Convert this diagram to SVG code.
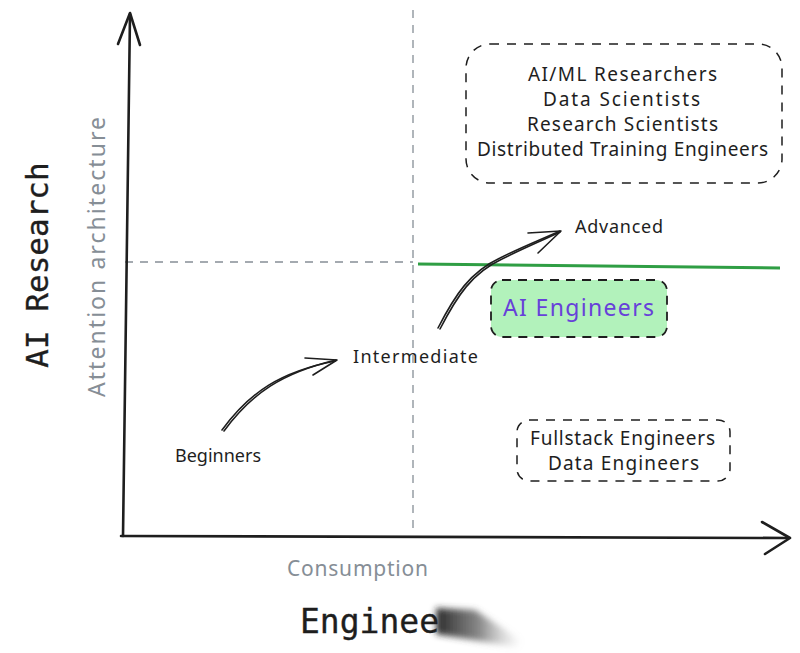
<svg xmlns="http://www.w3.org/2000/svg" width="800" height="653" viewBox="0 0 800 653">
<defs>
<style>
.hand{font-family:"Noto Sans","Liberation Sans",sans-serif;fill:#1e1e1e;}
.gray{font-family:"Noto Sans","Liberation Sans",sans-serif;fill:#868e96;}
.mono{font-family:"DejaVu Sans Mono","Liberation Mono",monospace;fill:#1e1e1e;stroke:#1e1e1e;stroke-width:0.35;}
.axis{stroke:#1e1e1e;stroke-width:2.6;fill:none;stroke-linecap:round;stroke-linejoin:round;}
.guide{stroke:#868e96;stroke-width:1.3;stroke-dasharray:8 7;fill:none;}
.box{stroke:#1e1e1e;stroke-width:1.5;stroke-dasharray:9 8;fill:none;}
.arrow{stroke:#1e1e1e;stroke-width:1.6;fill:none;stroke-linecap:round;stroke-linejoin:round;}
</style>
<linearGradient id="smudge" x1="0" y1="0" x2="1" y2="0">
<stop offset="0" stop-color="#1e1e1e" stop-opacity="0.95"/>
<stop offset="0.5" stop-color="#555" stop-opacity="0.7"/>
<stop offset="1" stop-color="#aaa" stop-opacity="0"/>
</linearGradient>
<filter id="blur" x="-20%" y="-50%" width="140%" height="200%"><feGaussianBlur stdDeviation="3"/></filter>
<filter id="soft" x="-100%" y="-50%" width="300%" height="200%"><feGaussianBlur stdDeviation="1"/></filter>
</defs>
<rect width="800" height="653" fill="#ffffff"/>

<g id="guides">
<line class="guide" x1="413" y1="10" x2="413" y2="535"/>
<line class="guide" x1="125" y1="262" x2="413" y2="262"/>
</g>

<g id="axes">
<path class="axis" d="M123,536 L130,14"/>
<path class="axis" d="M118,44 L130,13 L140,45"/>
<path class="axis" d="M121,536 L788,538"/>
<path class="axis" d="M762,522 L790,538 L765,554"/>
</g>

<g id="connectors">
<line x1="418" y1="264" x2="780" y2="268" stroke="#2f9e44" stroke-width="3"/>
<path class="arrow" d="M222,430 C250,392 280,372 335,361"/>
<path class="arrow" d="M224,431 C252,393 282,373 336,360"/>
<path class="arrow" d="M305,358 L337,360 L313,375"/>
<path class="arrow" d="M438,328 C455,295 470,272 500,258 C520,248 540,240 560,231"/>
<path class="arrow" d="M440,329 C457,296 472,273 502,259 C522,249 541,241 560,232"/>
<path class="arrow" d="M528,233 L561,231 L538,253"/>
</g>

<g id="labels">
<text class="mono" font-size="31" transform="translate(48,265) rotate(-90)" text-anchor="middle">AI Research</text>
<text class="gray" font-size="23" transform="translate(105,257) rotate(-90)" text-anchor="middle" textLength="280">Attention architecture</text>
<text class="gray" x="287" y="576" font-size="21" textLength="141">Consumption</text>
<text class="mono" x="300" y="633" font-size="33">Enginee</text>
<polygon points="436,608 475,610 522,641 516,647 436,634" fill="url(#smudge)" filter="url(#blur)"/>
<line x1="458" y1="553" x2="458" y2="572" stroke="#aaa" stroke-width="3" filter="url(#soft)"/>
</g>

<g id="node-research">
<rect class="box" x="466" y="44" width="316" height="139" rx="24"/>
<text class="hand" font-size="19"><tspan x="528" y="81" textLength="189">AI/ML Researchers</tspan><tspan x="543" y="106" textLength="157">Data Scientists</tspan><tspan x="527" y="131" textLength="191">Research Scientists</tspan><tspan x="477" y="156" textLength="291">Distributed Training Engineers</tspan></text>
</g>

<g id="node-advanced">
<text class="hand" x="575" y="233" font-size="18" textLength="88">Advanced</text>
</g>

<g id="node-ai-engineers">
<rect x="491" y="280" width="176" height="57" rx="11" fill="#b2f2bb" stroke="#1e1e1e" stroke-width="1.8" stroke-dasharray="9 7"/>
<text x="503" y="316" font-size="23" textLength="151" font-family="Noto Sans, Liberation Sans, sans-serif" fill="#6741d9">AI Engineers</text>
</g>

<g id="node-intermediate">
<text class="hand" x="353" y="363" font-size="18" textLength="125">Intermediate</text>
</g>

<g id="node-beginners">
<text class="hand" x="175" y="462" font-size="18" textLength="86">Beginners</text>
</g>

<g id="node-engineers">
<rect class="box" x="517" y="420" width="213" height="61" rx="12"/>
<text class="hand" font-size="19"><tspan x="530" y="445" textLength="185">Fullstack Engineers</tspan><tspan x="548" y="470" textLength="151">Data Engineers</tspan></text>
</g>
</svg>
